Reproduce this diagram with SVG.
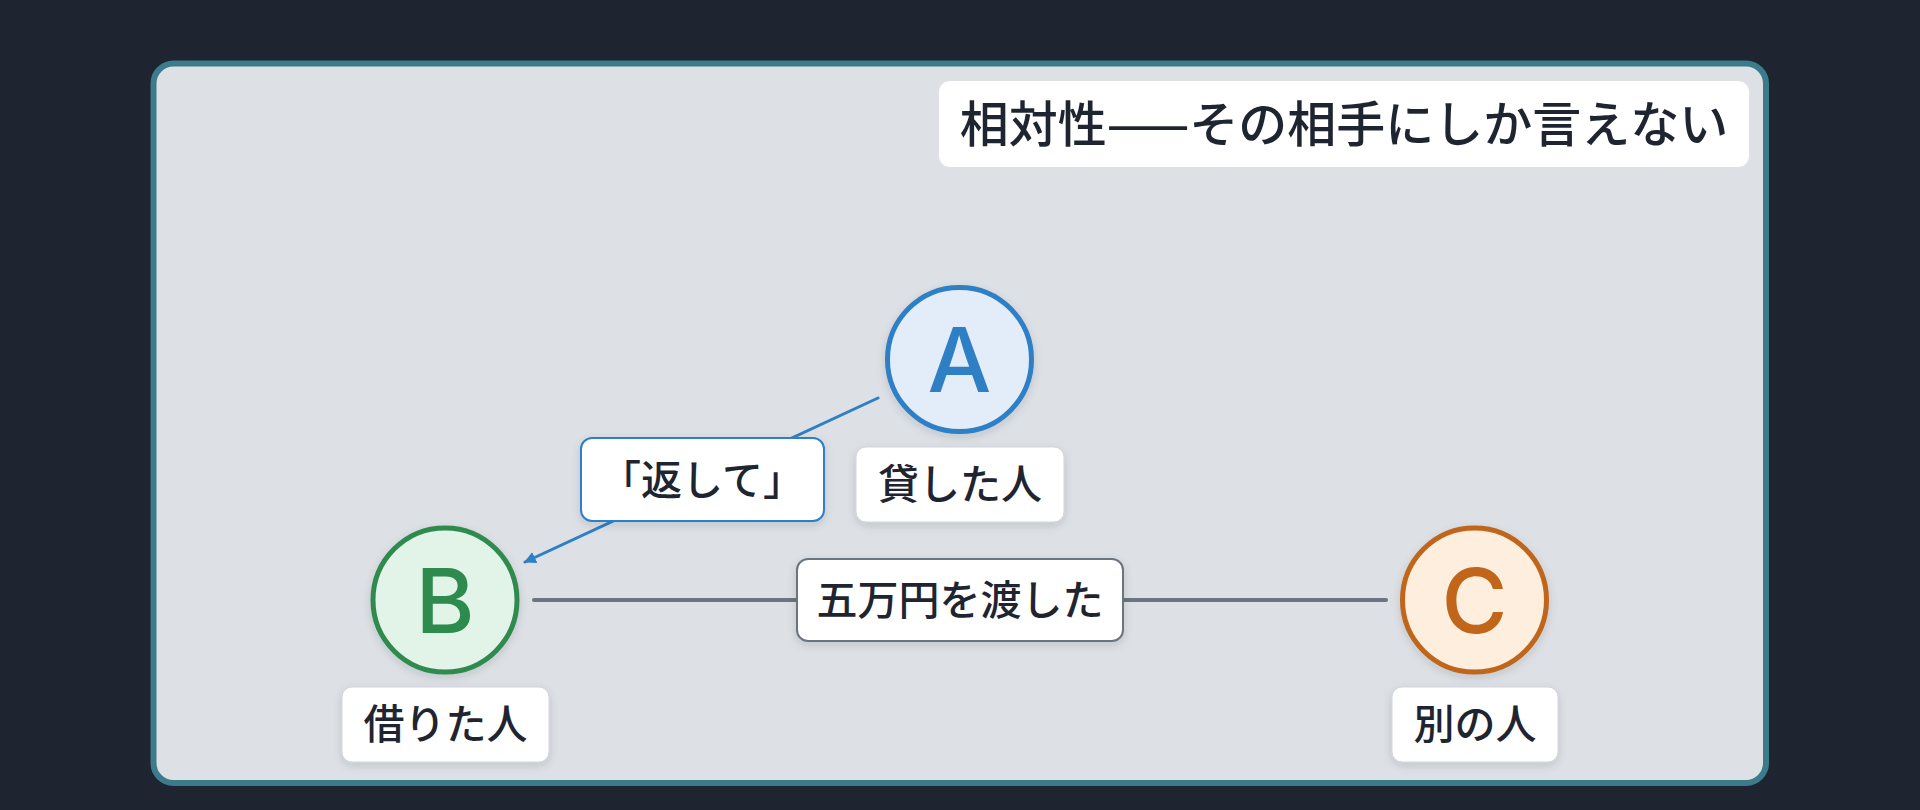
<svg xmlns="http://www.w3.org/2000/svg" width="1920" height="810" viewBox="0 0 1920 810">
  <defs>
    <filter id="shadow" x="-20%" y="-20%" width="140%" height="150%">
      <feDropShadow dx="0" dy="3" stdDeviation="4" flood-color="#1e2430" flood-opacity="0.14"/>
    </filter>
    <marker id="arrowBlue" viewBox="0 0 10 10" refX="9" refY="5" markerWidth="4" markerHeight="4" orient="auto" markerUnits="strokeWidth">
      <path d="M0,0 L10,5 L0,10 z" fill="#2f7fc5"/>
    </marker>
  </defs>
  <style>
    .txt { font-family: "Noto Sans CJK JP", "Noto Sans", sans-serif; fill: #1e2430; }
    .lbl { font-size: 41px; font-weight: 500; text-anchor: middle; }
    .letter { font-family: Inter, "Noto Sans", sans-serif; font-size: 90px; font-weight: 500; text-anchor: middle; }
    .nodebox { fill: #ffffff; stroke: #cfd5de; stroke-width: 1; filter: url(#shadow); }
    .node { stroke-width: 5; filter: url(#shadow); }
  </style>
  <rect x="0" y="0" width="1920" height="810" fill="#1e2430"/>
  <rect x="153.5" y="63.5" width="1612.5" height="719.5" rx="20" ry="20" fill="#dde0e5" stroke="#3b7b8a" stroke-width="6"/>

  <g id="title">
    <rect x="939" y="81" width="810" height="86" rx="11" fill="#ffffff"/>
    <text class="txt" x="1344" y="142" font-size="49" font-weight="500" text-anchor="middle">相対性——その相手にしか言えない</text>
  </g>

  <g id="connectors">
    <g id="edge-A-B">
      <line x1="878" y1="398" x2="525" y2="562" stroke="#2f7fc5" stroke-width="3" stroke-linecap="round" marker-end="url(#arrowBlue)"/>
      <rect x="581" y="438" width="243" height="83" rx="11" fill="#ffffff" stroke="#2f7fc5" stroke-width="2" filter="url(#shadow)"/>
      <text class="txt lbl" x="702" y="495">「返して」</text>
    </g>
    <g id="edge-B-C">
      <line x1="534" y1="600" x2="1386" y2="600" stroke="#6b7480" stroke-width="4" stroke-linecap="round"/>
      <rect x="797" y="559" width="326" height="82" rx="11" fill="#ffffff" stroke="#6b7480" stroke-width="2" filter="url(#shadow)"/>
      <text class="txt lbl" x="960" y="615">五万円を渡した</text>
    </g>
  </g>

  <g id="node-A">
    <circle class="node" cx="959.5" cy="359.5" r="72" fill="#e3edf9" stroke="#2f7fc5"/>
    <text class="letter" x="959.5" y="392" fill="#2f7fc5">A</text>
    <rect class="nodebox" x="856" y="447" width="208" height="75" rx="10"/>
    <text class="txt lbl" x="960" y="499">貸した人</text>
  </g>

  <g id="node-B">
    <circle class="node" cx="445" cy="600" r="72" fill="#e2f4e7" stroke="#2e8b4e"/>
    <text class="letter" x="445" y="632.5" fill="#2e8b4e">B</text>
    <rect class="nodebox" x="342" y="687" width="207" height="75" rx="10"/>
    <text class="txt lbl" x="445.5" y="739">借りた人</text>
  </g>

  <g id="node-C">
    <circle class="node" cx="1474.5" cy="600" r="72" fill="#fdeedd" stroke="#c0651a"/>
    <text class="letter" x="1474.5" y="632.5" fill="#c0651a">C</text>
    <rect class="nodebox" x="1392" y="687" width="166" height="75" rx="10"/>
    <text class="txt lbl" x="1475" y="739">別の人</text>
  </g>
</svg>
